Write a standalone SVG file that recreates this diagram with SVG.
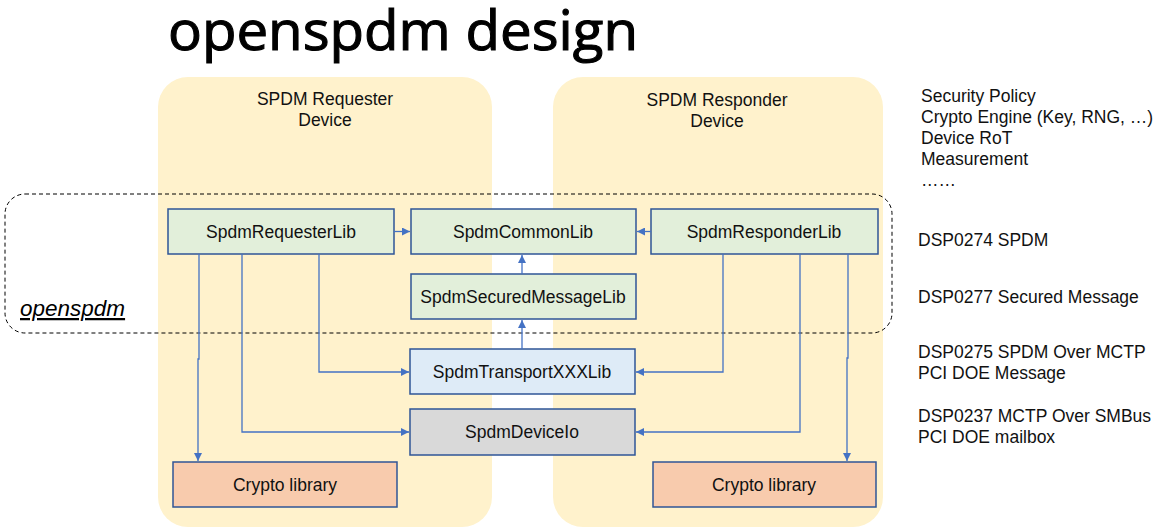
<svg xmlns="http://www.w3.org/2000/svg" width="1169" height="531" viewBox="0 0 1169 531">
<defs>
<marker id="arr" viewBox="0 0 10 10" refX="10" refY="5" markerWidth="8" markerHeight="8" markerUnits="userSpaceOnUse" orient="auto">
<path d="M0,0 L10,5 L0,10 z" fill="#4472C4"/>
</marker>
<style>
.panel{fill:#FFF2CC;}
.box{stroke:#2F5597;stroke-width:1.5;}
.green{fill:#E2EFDA;}
.blue{fill:#DEEBF7;}
.grey{fill:#D9D9D9;}
.orange{fill:#F8CBAD;}
.t{font-family:"Liberation Sans",Arial,sans-serif;font-size:17.5px;fill:#111;}
.c{text-anchor:middle;}
.conn{fill:none;stroke:#4472C4;stroke-width:1.3;marker-end:url(#arr);}
</style>
</defs>
<rect width="1169" height="531" fill="#ffffff"/>
<text x="168" y="50" font-family="'Open Sans',sans-serif" font-size="55" font-weight="400" textLength="470" lengthAdjust="spacingAndGlyphs" fill="#000" stroke="#000" stroke-width="1.1">openspdm design</text>

<g id="requester-device">
<rect class="panel" x="158" y="77" width="334" height="450" rx="30"/>
<text class="t c" x="325" y="105">SPDM Requester</text>
<text class="t c" x="325" y="126">Device</text>
</g>
<g id="responder-device">
<rect class="panel" x="553" y="77" width="330" height="450" rx="30"/>
<text class="t c" x="717" y="106">SPDM Responder</text>
<text class="t c" x="717" y="127">Device</text>
</g>

<g id="openspdm-boundary">
<rect x="5" y="194" width="887" height="139" rx="20" fill="none" stroke="#000" stroke-width="1" stroke-dasharray="4 3"/>
<text x="20" y="316" font-family="'Liberation Sans',Arial,sans-serif" font-size="22.5" font-style="italic" text-decoration="underline" fill="#000">openspdm</text>
</g>

<g id="SpdmRequesterLib">
<rect class="box green" x="168" y="209" width="226" height="45"/>
<text class="t c" x="281" y="238">SpdmRequesterLib</text>
</g>
<g id="SpdmCommonLib">
<rect class="box green" x="411" y="209" width="225" height="45"/>
<text class="t c" x="523" y="238">SpdmCommonLib</text>
</g>
<g id="SpdmResponderLib">
<rect class="box green" x="651" y="209" width="227" height="45"/>
<text class="t c" x="764" y="238">SpdmResponderLib</text>
</g>
<g id="SpdmSecuredMessageLib">
<rect class="box green" x="411" y="274" width="225" height="45"/>
<text class="t c" x="523" y="303">SpdmSecuredMessageLib</text>
</g>
<g id="SpdmTransportXXXLib">
<rect class="box blue" x="410" y="349" width="225" height="45"/>
<text class="t c" x="522" y="378">SpdmTransportXXXLib</text>
</g>
<g id="SpdmDeviceIo">
<rect class="box grey" x="410" y="409" width="225" height="46"/>
<text class="t c" x="522" y="438">SpdmDeviceIo</text>
</g>
<g id="CryptoLibraryLeft">
<rect class="box orange" x="173" y="462" width="224" height="45"/>
<text class="t c" x="285" y="491">Crypto library</text>
</g>
<g id="CryptoLibraryRight">
<rect class="box orange" x="653" y="462" width="223" height="45"/>
<text class="t c" x="764" y="491">Crypto library</text>
</g>

<g id="connectors">
<path class="conn" d="M394,231.5 H410"/>
<path class="conn" d="M651,231.5 H637"/>
<path class="conn" d="M522,274 V255"/>
<path class="conn" d="M522,349 V320"/>
<path class="conn" d="M199,254 V359 H198 V461"/>
<path class="conn" d="M242,254 V432 H409"/>
<path class="conn" d="M319,254 V372 H409"/>
<path class="conn" d="M723,254 V372 H636"/>
<path class="conn" d="M800,254 V432 H636"/>
<path class="conn" d="M848,254 V358 H847 V461"/>
</g>

<g id="annotations">
<text class="t" x="921" y="102">Security Policy</text>
<text class="t" x="921" y="123">Crypto Engine (Key, RNG, …)</text>
<text class="t" x="921" y="144">Device RoT</text>
<text class="t" x="921" y="165">Measurement</text>
<text class="t" x="921" y="186">……</text>
<text class="t" x="918" y="246">DSP0274 SPDM</text>
<text class="t" x="918" y="303">DSP0277 Secured Message</text>
<text class="t" x="918" y="358">DSP0275 SPDM Over MCTP</text>
<text class="t" x="918" y="379">PCI DOE Message</text>
<text class="t" x="918" y="422">DSP0237 MCTP Over SMBus</text>
<text class="t" x="918" y="443">PCI DOE mailbox</text>
</g>
</svg>
